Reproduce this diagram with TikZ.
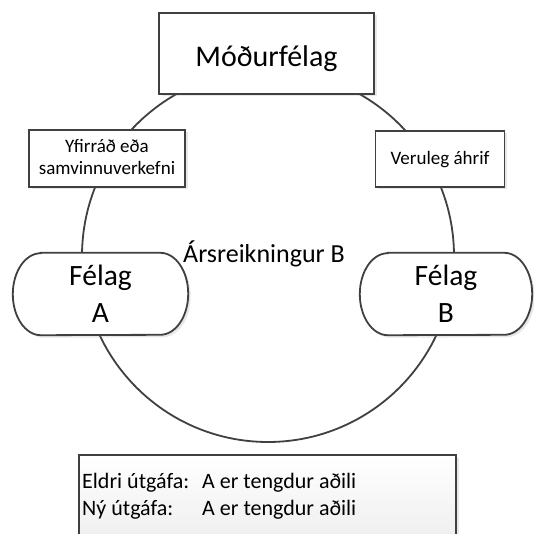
\documentclass[tikz,border=0pt]{standalone}
\usepackage{fontspec}
\setmainfont{Carlito}
\usetikzlibrary{shadows,backgrounds}
\definecolor{edgegray}{HTML}{404040}
\begin{document}
\begin{tikzpicture}[x=1pt,y=-1pt,
  outline/.style={draw=edgegray, line width=1.8pt},
  shadowed/.style={drop shadow={opacity=0.18, shadow xshift=2.5pt, shadow yshift=-2.5pt}},
  box/.style={outline, shadowed, fill=white, rectangle, inner sep=0pt, align=center},
  pill/.style={inner sep=0pt, align=center, minimum height=82, font=\fontsize{29.5}{37}\selectfont, text height=56pt, text depth=0pt},
  bigfont/.style={font=\fontsize{30}{35}\selectfont},
  smallfont/.style={font=\fontsize{19}{22}\selectfont},
  infofont/.style={font=\fontsize{22}{27}\selectfont}
]
\useasboundingbox (0,0) rectangle (534,534);
\clip (0,0) rectangle (534,534);

\begin{scope}[on background layer]
  \fill[white] (0,0) rectangle (534,534);
  \node[outline, circle, minimum size=372, inner sep=0pt] (ring) at (268,256) {};
\end{scope}

% Félag A and B
\node[pill, minimum width=175] (fa) at (100.5,294) {Félag\\A};
\node[pill, minimum width=172] (fb) at (446,294) {Félag\\B};
\begin{scope}[on background layer]
  \foreach \n in {fa,fb}
    \path[outline, shadowed, fill=white]
      ([xshift=28pt]\n.north west) -- ([xshift=-28pt]\n.north east)
      arc[start angle=90, end angle=-90, x radius=28pt, y radius=41pt]
      -- ([xshift=28pt]\n.south west)
      arc[start angle=270, end angle=90, x radius=28pt, y radius=41pt] -- cycle;
\end{scope}

% boxes
\node[box, bigfont, minimum width=215, minimum height=81, text height=27pt, text depth=0pt] (mod) at (266.5,53.5) {Móðurfélag};
\node[box, smallfont, minimum width=156, minimum height=57, text height=33pt, text depth=0pt] (yf) at (107,158.5) {Yfirráð eða\\samvinnuverkefni};
\node[box, smallfont, minimum width=129, minimum height=56, text height=11pt, text depth=0pt] (ver) at (440,159) {Veruleg áhrif};

\node[anchor=base, font=\fontsize{26}{30}\selectfont, inner sep=0pt] (ars) at (264,262) {Ársreikningur B};

% info box (cut off at the bottom)
\node[box, minimum width=377, minimum height=92, top color=white, bottom color=black!7] (info) at (267.5,501) {};
\node[anchor=base west, inner sep=0pt, infofont] (old) at (82,488) {\makebox[120pt][l]{Eldri útgáfa:}A er tengdur aðili};
\node[anchor=base west, inner sep=0pt, infofont] (new) at (82,515) {\makebox[120pt][l]{Ný útgáfa:}A er tengdur aðili};
\end{tikzpicture}
\end{document}
